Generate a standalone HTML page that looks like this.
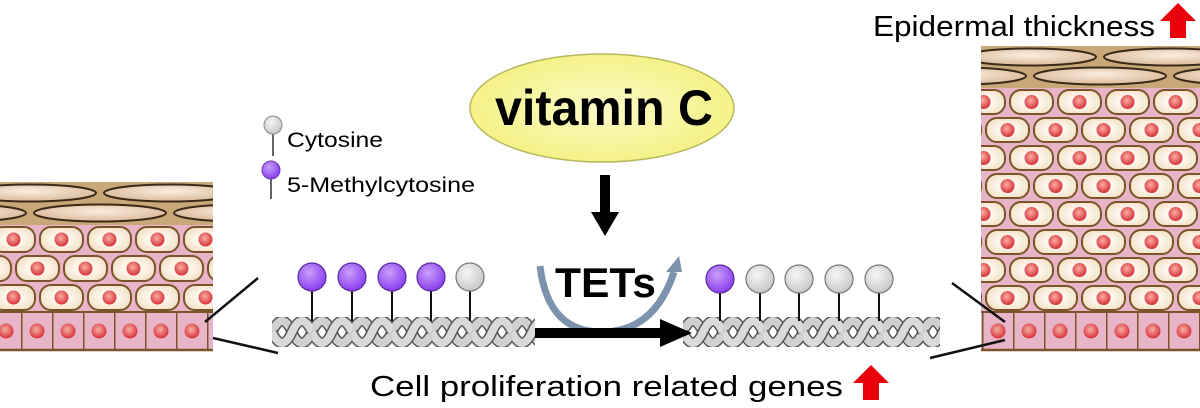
<!DOCTYPE html>
<html><head><meta charset="utf-8"><style>
html,body{margin:0;padding:0;background:#fff;width:1200px;height:408px;overflow:hidden}
svg text{font-family:"Liberation Sans",Arial,sans-serif}
</style></head><body>
<svg width="1200" height="408" viewBox="0 0 1200 408" xmlns="http://www.w3.org/2000/svg">
<defs>
<radialGradient id="yel" cx="50%" cy="50%" r="60%"><stop offset="0" stop-color="#fbfbc8"/><stop offset="1" stop-color="#f3f07a"/></radialGradient>
<radialGradient id="cell" cx="50%" cy="50%" r="60%"><stop offset="0.3" stop-color="#fffaf0"/><stop offset="1" stop-color="#f0dcc0"/></radialGradient>
<radialGradient id="nuc" cx="45%" cy="40%" r="60%"><stop offset="0" stop-color="#f6b0a0"/><stop offset="1" stop-color="#d8303a"/></radialGradient>
<radialGradient id="corn" cx="50%" cy="40%" r="60%"><stop offset="0" stop-color="#fbeee0"/><stop offset="1" stop-color="#d9b898"/></radialGradient>
<radialGradient id="pur" cx="40%" cy="35%" r="65%"><stop offset="0" stop-color="#c9a0f8"/><stop offset="1" stop-color="#8a3ef0"/></radialGradient>
<radialGradient id="gry" cx="40%" cy="35%" r="65%"><stop offset="0" stop-color="#f6f6f6"/><stop offset="1" stop-color="#c8c8c8"/></radialGradient>

<pattern id="cellsL" patternUnits="userSpaceOnUse" x="-10" y="225" width="48" height="58">
<rect width="48" height="58" fill="#e8b4c8"/>
<rect x="2" y="2" width="43" height="25" rx="11" fill="url(#cell)" stroke="#7a5428" stroke-width="2"/>
<circle cx="23.5" cy="14.5" r="7" fill="url(#nuc)"/>
<rect x="26" y="31" width="43" height="25" rx="11" fill="url(#cell)" stroke="#7a5428" stroke-width="2"/>
<rect x="-22" y="31" width="43" height="25" rx="11" fill="url(#cell)" stroke="#7a5428" stroke-width="2"/>
<circle cx="47.5" cy="43.5" r="7" fill="url(#nuc)"/>
<circle cx="-0.5" cy="43.5" r="7" fill="url(#nuc)"/>
</pattern>
<pattern id="cellsR" patternUnits="userSpaceOnUse" x="960" y="88" width="48" height="56">
<rect width="48" height="56" fill="#e8b4c8"/>
<rect x="2" y="2" width="43" height="24" rx="11" fill="url(#cell)" stroke="#7a5428" stroke-width="2"/>
<circle cx="23.5" cy="14" r="7" fill="url(#nuc)"/>
<rect x="26" y="30" width="43" height="24" rx="11" fill="url(#cell)" stroke="#7a5428" stroke-width="2"/>
<rect x="-22" y="30" width="43" height="24" rx="11" fill="url(#cell)" stroke="#7a5428" stroke-width="2"/>
<circle cx="47.5" cy="42" r="7" fill="url(#nuc)"/>
<circle cx="-0.5" cy="42" r="7" fill="url(#nuc)"/>
</pattern>
<pattern id="cornL" patternUnits="userSpaceOnUse" x="-40" y="182" width="140" height="43">
<rect width="140" height="43" fill="#c8a878"/>
<ellipse cx="70" cy="11" rx="66" ry="8.5" fill="url(#corn)" stroke="#3a2a1a" stroke-width="2"/>
<ellipse cx="0" cy="31" rx="66" ry="8.5" fill="url(#corn)" stroke="#3a2a1a" stroke-width="2"/>
<ellipse cx="140" cy="31" rx="66" ry="8.5" fill="url(#corn)" stroke="#3a2a1a" stroke-width="2"/>
</pattern>
<pattern id="cornR" patternUnits="userSpaceOnUse" x="960" y="46" width="140" height="42">
<rect width="140" height="42" fill="#c8a878"/>
<ellipse cx="70" cy="11" rx="66" ry="8.5" fill="url(#corn)" stroke="#3a2a1a" stroke-width="2"/>
<ellipse cx="0" cy="30" rx="66" ry="8.5" fill="url(#corn)" stroke="#3a2a1a" stroke-width="2"/>
<ellipse cx="140" cy="30" rx="66" ry="8.5" fill="url(#corn)" stroke="#3a2a1a" stroke-width="2"/>
</pattern>
<pattern id="basal" patternUnits="userSpaceOnUse" x="-10" y="312" width="31" height="40">
<rect width="31" height="40" fill="#e8b4c8"/>
<line x1="0.5" y1="0" x2="0.5" y2="40" stroke="#7a5428" stroke-width="2"/>
<circle cx="16" cy="19" r="7.5" fill="url(#nuc)"/>
</pattern>
<pattern id="hel" patternUnits="userSpaceOnUse" x="272" y="317" width="40" height="30">
<path d="M0 15 Q10 -7 20 15 Q30 37 40 15" fill="none" stroke="#555" stroke-width="11"/>
<path d="M0 15 Q10 -7 20 15 Q30 37 40 15" fill="none" stroke="#d0d0d0" stroke-width="8"/>
<path d="M0 15 Q10 37 20 15 Q30 -7 40 15" fill="none" stroke="#555" stroke-width="11"/>
<path d="M0 15 Q10 37 20 15 Q30 -7 40 15" fill="none" stroke="#dadada" stroke-width="8"/>
</pattern>
<pattern id="hel2" href="#hel" x="683" y="317"/>
</defs>

<rect x="0" y="182" width="213" height="43" fill="url(#cornL)"/>
<rect x="0" y="225" width="213" height="87" fill="url(#cellsL)"/>
<rect x="0" y="312" width="213" height="38" fill="url(#basal)" />
<line x1="0" y1="312" x2="213" y2="312" stroke="#7a5428" stroke-width="2"/>
<line x1="0" y1="350" x2="213" y2="350" stroke="#7a5428" stroke-width="2.5"/>

<rect x="981" y="46" width="219" height="42" fill="url(#cornR)"/>
<rect x="981" y="88" width="219" height="224" fill="url(#cellsR)"/>
<rect x="981" y="312" width="219" height="38" fill="url(#basal)"/>
<line x1="981" y1="312" x2="1200" y2="312" stroke="#7a5428" stroke-width="2"/>
<line x1="981" y1="350" x2="1200" y2="350" stroke="#7a5428" stroke-width="2.5"/>

<rect x="272" y="317" width="263" height="30" fill="url(#hel)"/>
<rect x="683" y="317" width="257" height="30" fill="url(#hel2)"/>
<g stroke="#111" stroke-width="2">
<line x1="312" y1="277" x2="312" y2="321"/><line x1="352" y1="277" x2="352" y2="321"/><line x1="392" y1="277" x2="392" y2="321"/><line x1="431" y1="277" x2="431" y2="321"/><line x1="470" y1="277" x2="470" y2="321"/>
<line x1="720" y1="279" x2="720" y2="321"/><line x1="760" y1="279" x2="760" y2="321"/><line x1="799" y1="279" x2="799" y2="321"/><line x1="839" y1="279" x2="839" y2="321"/><line x1="879" y1="279" x2="879" y2="321"/>
</g>
<g stroke="#5a2aa0" stroke-width="1.2" fill="url(#pur)">
<circle cx="312" cy="277" r="14"/><circle cx="352" cy="277" r="14"/><circle cx="392" cy="277" r="14"/><circle cx="431" cy="277" r="14"/><circle cx="720" cy="279" r="14"/>
</g>
<g stroke="#777" stroke-width="1.2" fill="url(#gry)">
<circle cx="470" cy="277" r="14"/><circle cx="760" cy="279" r="14"/><circle cx="799" cy="279" r="14"/><circle cx="839" cy="279" r="14"/><circle cx="879" cy="279" r="14"/>
</g>

<g stroke="#111" stroke-width="2.5">
<line x1="258" y1="278" x2="205" y2="322"/><line x1="213" y1="338" x2="278" y2="353"/>
<line x1="952" y1="283" x2="1005" y2="322"/><line x1="1005" y1="340" x2="930" y2="358"/>
</g>

<line x1="273" y1="130" x2="273" y2="156" stroke="#333" stroke-width="1.5"/>
<circle cx="273" cy="125" r="9" fill="url(#gry)" stroke="#888"/>
<text x="287" y="147" font-size="21" textLength="96" lengthAdjust="spacingAndGlyphs">Cytosine</text>
<line x1="271" y1="175" x2="271" y2="199" stroke="#333" stroke-width="1.5"/>
<circle cx="271" cy="170" r="9" fill="url(#pur)" stroke="#6a3ab0"/>
<text x="287" y="192" font-size="21" textLength="188" lengthAdjust="spacingAndGlyphs">5-Methylcytosine</text>

<ellipse cx="602" cy="108" rx="132" ry="54" fill="url(#yel)" stroke="#b8b860" stroke-width="1.5"/>
<text x="495" y="125" font-size="50" font-weight="bold" textLength="218" lengthAdjust="spacingAndGlyphs">vitamin C</text>
<rect x="600" y="175" width="10" height="40" fill="#000"/>
<polygon points="591,212 619,212 605,236" fill="#000"/>

<path d="M540 266 Q548 334 605 332 Q655 330 674 272" fill="none" stroke="#7d93ad" stroke-width="7"/>
<polygon points="666,272 682,272 679,256" fill="#7d93ad"/>
<text x="555" y="297" font-size="42" font-weight="bold" textLength="101" lengthAdjust="spacingAndGlyphs">TETs</text>
<rect x="535" y="328" width="128" height="10" fill="#000"/>
<polygon points="660,319 692,333 660,347" fill="#000"/>

<text x="370" y="396" font-size="29" textLength="473" lengthAdjust="spacingAndGlyphs">Cell proliferation related genes</text>
<polygon points="871,365 889,383 879,383 879,400 863,400 863,383 853,383" fill="#e8000a"/>
<text x="873" y="36" font-size="29" textLength="282" lengthAdjust="spacingAndGlyphs">Epidermal thickness</text>
<polygon points="1178,3 1196,21 1186,21 1186,38 1170,38 1170,21 1160,21" fill="#e8000a"/>
</svg>
</body></html>
